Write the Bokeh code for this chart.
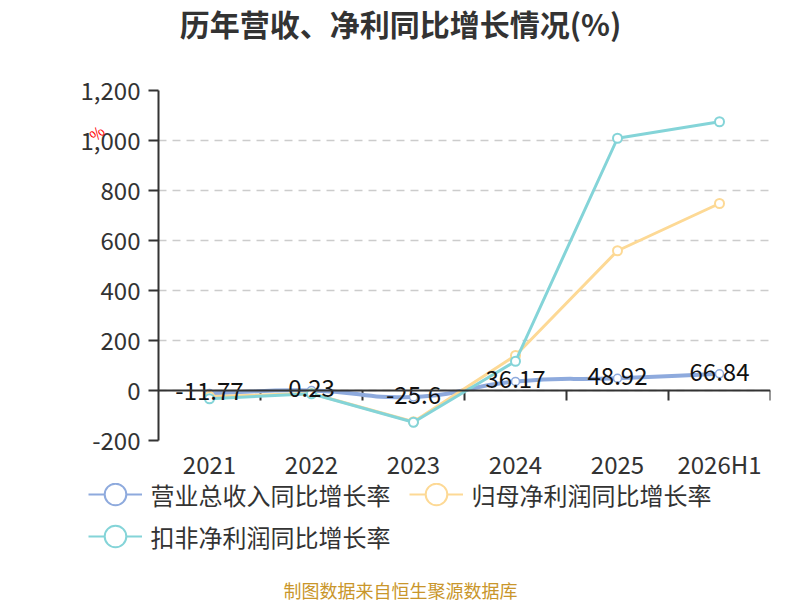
import math
from bokeh.plotting import figure
from bokeh.models import (ColumnDataSource, FixedTicker, NumeralTickFormatter, Span,
                          Legend, LegendItem, Label, Range1d, LinearAxis)
from bokeh.core.properties import value
from bokeh.embed import file_html
from bokeh.resources import INLINE

# ---- data ----
categories = ["2021", "2022", "2023", "2024", "2025", "2026H1"]
revenue_growth = [-11.77, 0.23, -25.6, 36.17, 48.92, 66.84]
parent_np_growth = [-24, -12, -125, 140, 559, 748]
deducted_np_growth = [-33, -13, -127, 117, 1009, 1075]
y_ticks = [-200, 0, 200, 400, 600, 800, 1000, 1200]
series_names = ["营业总收入同比增长率", "归母净利润同比增长率", "扣非净利润同比增长率"]
title_text = "历年营收、净利同比增长情况(%)"
footer_text = "制图数据来自恒生聚源数据库"
unit_text = "%"

FONT = "Noto Sans CJK SC"
C_BLUE = "#8eaadd"
C_ORANGE = "#fdd995"
C_TEAL = "#84d4d8"
TXT = "#333333"

n = len(categories)
xs = list(range(n))

W = 800
TOP_H = 70
FRAME_L, FRAME_R = 158, 770
FRAME_W, FRAME_H = FRAME_R - FRAME_L, 350
MAIN_TOP, MAIN_BOTTOM = 20, 43
MAIN_H = MAIN_TOP + FRAME_H + MAIN_BOTTOM
BOT_H = 600 - TOP_H - MAIN_H


def blank(h):
    f = figure(width=W, height=h, output_backend="svg", toolbar_location=None,
               x_range=Range1d(0, W), y_range=Range1d(0, h),
               x_axis_type=None, y_axis_type=None, min_border=0,
               min_border_left=0, min_border_right=0, min_border_top=0,
               min_border_bottom=0)
    f.outline_line_color = None
    f.xgrid.visible = False
    f.ygrid.visible = False
    return f

# ---------- top: title ----------
p_top = blank(TOP_H)
p_top.add_layout(Label(x=400, y=TOP_H - 22, text=title_text, text_font=FONT,
                       text_font_size="30px", text_font_style="bold", text_color=TXT,
                       text_align="center", text_baseline="middle"))

# ---------- main chart ----------
p = figure(width=W, height=MAIN_H, frame_width=FRAME_W, frame_height=FRAME_H,
           output_backend="svg", toolbar_location=None,
           x_range=Range1d(-0.5, n - 0.5), y_range=Range1d(-200, 1200),
           min_border_left=FRAME_L, min_border_right=W - FRAME_R,
           min_border_top=MAIN_TOP, min_border_bottom=MAIN_BOTTOM)
p.outline_line_color = None

p.xaxis.ticker = FixedTicker(ticks=xs)
p.xaxis.major_label_overrides = {i: c for i, c in zip(xs, categories)}
p.xaxis.axis_line_color = None
p.xaxis.major_tick_line_color = None
p.xaxis.major_tick_out = 0
p.xaxis.major_tick_in = 0
p.xaxis.minor_tick_line_color = None
p.xaxis.major_label_text_font = FONT
p.xaxis.major_label_text_font_size = "24px"
p.xaxis.major_label_text_color = TXT
p.xaxis.major_label_standoff = 5

p.yaxis.ticker = FixedTicker(ticks=y_ticks)
p.yaxis.formatter = NumeralTickFormatter(format="0,0")
p.yaxis.axis_line_color = TXT
p.yaxis.axis_line_width = 2
p.yaxis.major_tick_line_color = TXT
p.yaxis.major_tick_line_width = 2
p.yaxis.major_tick_out = 10
p.yaxis.major_tick_in = 0
p.yaxis.minor_tick_line_color = None
p.yaxis.major_label_text_font = FONT
p.yaxis.major_label_text_font_size = "24px"
p.yaxis.major_label_text_color = TXT
p.yaxis.major_label_standoff = 8

# unit mark "%" as an extra left axis label
unit_pos = 1050
unit_axis = LinearAxis(ticker=FixedTicker(ticks=[unit_pos]),
                       major_label_overrides={unit_pos: unit_text},
                       axis_line_color=None, major_tick_line_color=None,
                       major_tick_out=0, major_tick_in=0, minor_tick_line_color=None,
                       major_label_text_color="red", major_label_text_font=FONT,
                       major_label_text_font_size="15px",
                       major_label_orientation=0.75, major_label_standoff=-24)
p.add_layout(unit_axis, "left")

p.xgrid.grid_line_color = None
p.ygrid.ticker = FixedTicker(ticks=y_ticks)
p.ygrid.grid_line_color = "#cccccc"
p.ygrid.grid_line_width = 1.5
p.ygrid.grid_line_dash = "8 6"

# zero axis line with category boundary ticks
p.add_layout(Span(location=0, dimension="width", line_color=TXT, line_width=2))
bounds = [i + 0.5 for i in range(n)]
px_per_y = FRAME_H / 1400.0
p.segment(x0=bounds, y0=[0] * n, x1=bounds, y1=[-10 / px_per_y] * n,
          line_color=TXT, line_width=2)

# smooth blue curve (echarts-like bezier, smooth=0.5)
px_per_x = FRAME_W / float(n)
pts = [(x * px_per_x, y * px_per_y) for x, y in zip(xs, revenue_growth)]
cp0, cp1 = [], []
for i, cur in enumerate(pts):
    prev = pts[i - 1] if i > 0 else cur
    nxt = pts[i + 1] if i < n - 1 else cur
    vx, vy = nxt[0] - prev[0], nxt[1] - prev[1]
    d0 = math.hypot(cur[0] - prev[0], cur[1] - prev[1])
    d1 = math.hypot(cur[0] - nxt[0], cur[1] - nxt[1])
    s = d0 + d1
    if s:
        d0 /= s
        d1 /= s
    cp0.append((cur[0] - vx * 0.5 * d0, cur[1] - vy * 0.5 * d0))
    cp1.append((cur[0] + vx * 0.5 * d1, cur[1] + vy * 0.5 * d1))
bez = dict(x0=[], y0=[], x1=[], y1=[], cx0=[], cy0=[], cx1=[], cy1=[])
for i in range(n - 1):
    bez["x0"].append(xs[i]); bez["y0"].append(revenue_growth[i])
    bez["x1"].append(xs[i + 1]); bez["y1"].append(revenue_growth[i + 1])
    bez["cx0"].append(cp1[i][0] / px_per_x); bez["cy0"].append(cp1[i][1] / px_per_y)
    bez["cx1"].append(cp0[i + 1][0] / px_per_x); bez["cy1"].append(cp0[i + 1][1] / px_per_y)
p.bezier(x0="x0", y0="y0", x1="x1", y1="y1", cx0="cx0", cy0="cy0", cx1="cx1", cy1="cy1",
         source=ColumnDataSource(bez), line_color=C_BLUE, line_width=4)
p.scatter(xs, revenue_growth, size=8, fill_color="white", line_color=C_BLUE, line_width=1.5)
p.line(xs, parent_np_growth, line_color=C_ORANGE, line_width=3)
p.scatter(xs, parent_np_growth, size=9, fill_color="white", line_color=C_ORANGE, line_width=2)
p.line(xs, deducted_np_growth, line_color=C_TEAL, line_width=3)
p.scatter(xs, deducted_np_growth, size=9, fill_color="white", line_color=C_TEAL, line_width=2)

p.text(x=xs, y=revenue_growth, text=[str(v) for v in revenue_growth],
       text_font=value(FONT), text_font_size="24px", text_color="#111111",
       text_align="center", text_baseline="middle", y_offset=-2)

# ---------- bottom: legend + footer ----------
p_bot = blank(BOT_H)
nan = float("nan")
leg_items = []
for name, col in zip(series_names, [C_BLUE, C_ORANGE, C_TEAL]):
    ln = p_bot.line(x=[nan], y=[nan], line_color=col, line_width=2)
    mk = p_bot.scatter(x=[nan], y=[nan], fill_color="white", line_color=col, line_width=2)
    leg_items.append(LegendItem(label=name, renderers=[ln, mk]))


def mk_legend(items, loc):
    return Legend(items=items, location=loc, orientation="horizontal",
                  glyph_width=54, glyph_height=54, label_standoff=9, spacing=18,
                  padding=0, margin=0, border_line_color=None,
                  background_fill_alpha=0, label_text_font=FONT,
                  label_text_font_size="24px", label_text_color=TXT)

base = TOP_H + MAIN_H
row1_c = BOT_H - (494 - base)
row2_c = BOT_H - (536 - base)
p_bot.add_layout(mk_legend(leg_items[:2], (87.5, row1_c - 27)))
p_bot.add_layout(mk_legend(leg_items[2:], (87.5, row2_c - 27)))
p_bot.add_layout(Label(x=400, y=BOT_H - (589 - base), text=footer_text,
                       text_font=FONT, text_font_size="18px", text_color="#c9962b",
                       text_align="center", text_baseline="middle"))

open("out.html", "w").write(file_html([p_top, p, p_bot], INLINE))
